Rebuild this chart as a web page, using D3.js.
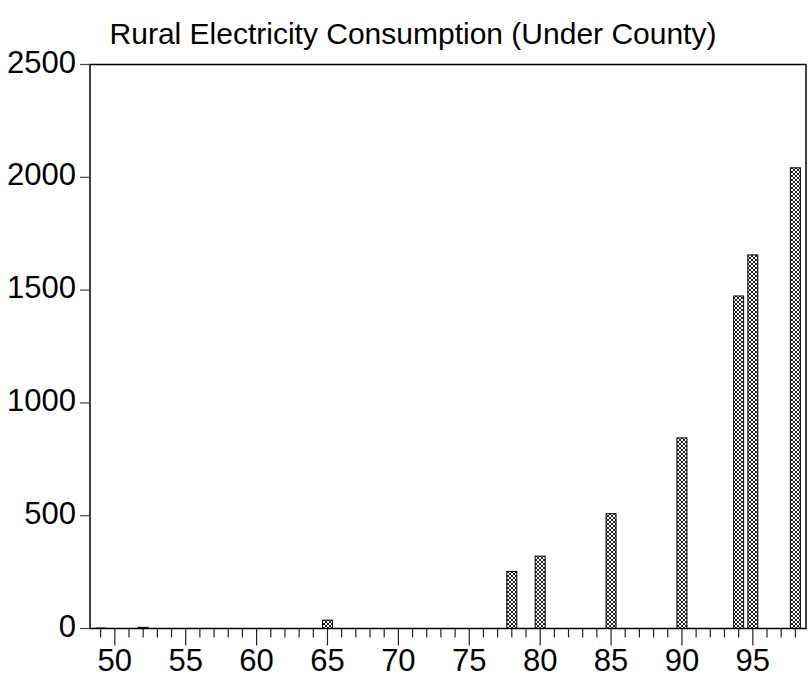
<!DOCTYPE html>
<html>
<head>
<meta charset="utf-8">
<script src="https://cdn.jsdelivr.net/npm/d3@7"></script>
<style>
  body { margin: 0; background: #fff; }
  text { font-family: "Liberation Sans", Arial, sans-serif; fill: #000; }
</style>
</head>
<body>
<div id="chart"></div>
<script>
// data (years as two digits)
const years = [49, 52, 65, 78, 80, 85, 90, 94, 95, 98];
const consumption = [2, 5, 37, 253, 321, 509, 845, 1474, 1656, 2042];
const majorTicks = [50, 55, 60, 65, 70, 75, 80, 85, 90, 95];
const minorTicks = d3.range(49, 99);
const yTicks = [0, 500, 1000, 1500, 2000, 2500];
const title = "Rural Electricity Consumption (Under County)";

const width = 808, height = 685;
const plot = {left: 90, right: 806, top: 64.5, bottom: 628.5};

const svg = d3.select("#chart").append("svg")
    .attr("width", width)
    .attr("height", height);

const x = d3.scaleLinear()
    .domain([48.25, 98.75])
    .range([plot.left, plot.right]);

const y = d3.scaleLinear()
    .domain([0, 2500])
    .range([plot.bottom, plot.top]);

// crosshatch fill
const pat = svg.append("defs").append("pattern")
    .attr("id", "hatch")
    .attr("patternUnits", "userSpaceOnUse")
    .attr("width", 4)
    .attr("height", 4);
pat.append("rect").attr("width", 4).attr("height", 4).attr("fill", "#fff");
pat.append("path")
    .attr("d", "M0,0L4,4M4,0L0,4")
    .attr("stroke", "#222")
    .attr("stroke-width", 1);

const barW = 10;
svg.selectAll(".bar")
    .data(years)
    .enter()
    .append("rect")
    .attr("class", "bar")
    .attr("x", (d) => x(d) - barW / 2)
    .attr("width", barW)
    .attr("y", (d, i) => y(consumption[i]))
    .attr("height", (d, i) => y(0) - y(consumption[i]))
    .attr("fill", "url(#hatch)")
    .attr("stroke", "#000")
    .attr("stroke-width", 1);

// frame
svg.append("rect")
    .attr("x", plot.left)
    .attr("y", plot.top)
    .attr("width", plot.right - plot.left)
    .attr("height", plot.bottom - plot.top)
    .attr("fill", "none")
    .attr("stroke", "#000")
    .attr("stroke-width", 1.5);

// y axis ticks and labels
svg.selectAll(".ytick")
    .data(yTicks)
    .enter()
    .append("line")
    .attr("class", "ytick")
    .attr("x1", plot.left - 10)
    .attr("x2", plot.left)
    .attr("y1", (d) => y(d))
    .attr("y2", (d) => y(d))
    .attr("stroke", "#444")
    .attr("stroke-width", 1.2);

svg.selectAll(".ylab")
    .data(yTicks)
    .enter()
    .append("text")
    .attr("class", "ylab")
    .attr("x", 76)
    .attr("y", (d) => y(d) + 8)
    .attr("text-anchor", "end")
    .style("font-size", "31px")
    .text((d) => d);

// x axis: minor ticks every year, longer ones every five
svg.selectAll(".xminor")
    .data(minorTicks)
    .enter()
    .append("line")
    .attr("class", "xminor")
    .attr("x1", (d) => x(d))
    .attr("x2", (d) => x(d))
    .attr("y1", plot.bottom)
    .attr("y2", (d) => majorTicks.includes(d) ? plot.bottom + 17 : plot.bottom + 9)
    .attr("stroke", "#222")
    .attr("stroke-width", 1.2);

svg.selectAll(".xlab")
    .data(majorTicks)
    .enter()
    .append("text")
    .attr("class", "xlab")
    .attr("x", (d) => x(d))
    .attr("y", 671)
    .attr("text-anchor", "middle")
    .style("font-size", "31px")
    .text((d) => d);

svg.append("text")
    .attr("x", 413)
    .attr("y", 44)
    .attr("text-anchor", "middle")
    .style("font-size", "30px")
    .text(title);
</script>
</body>
</html>
